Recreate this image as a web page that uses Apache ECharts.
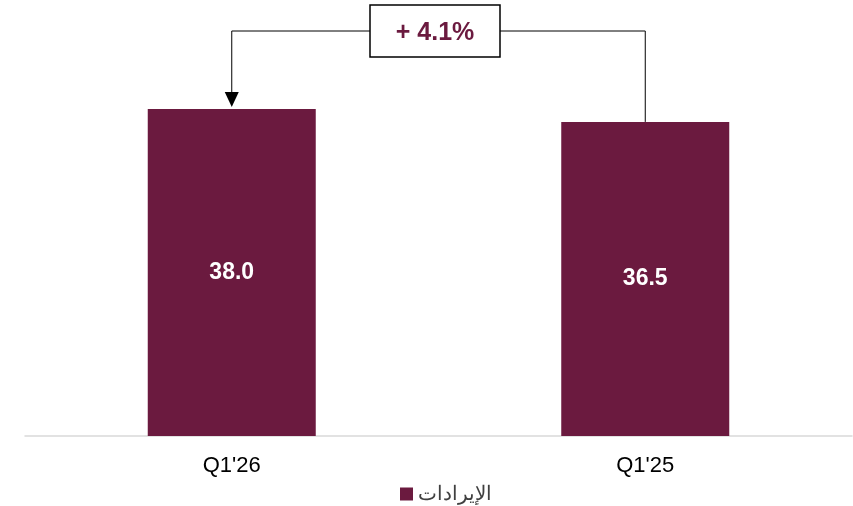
<!DOCTYPE html>
<html><head><meta charset="utf-8">
<script src="https://cdn.jsdelivr.net/npm/echarts@6/dist/echarts.min.js"></script>
<style>html,body{margin:0;padding:0;background:#fff;}#c{width:853px;height:506px;}</style>
</head><body><div id="c"></div>
<script>
var categories = ["Q1'26", "Q1'25"];
var revenue = [38.0, 36.5];
var seriesName = "الإيرادات";
var changeLabel = "+ 4.1%";
var barColor = '#6B1A3F';

var chart = echarts.init(document.getElementById('c'));
chart.setOption({
  animation: false,
  grid: {left: 25, right: 1, top: 109, bottom: 70, containLabel: false},
  legend: {
    top: 479, left: 395, itemWidth: 13, itemHeight: 13, itemGap: 5,
    icon: 'rect',
    textStyle: {fontFamily: 'Liberation Sans, Arial', fontSize: 20, color: '#404040'},
    data: [seriesName]
  },
  xAxis: {
    type: 'category', data: categories,
    axisLine: {lineStyle: {color: '#d9d9d9', width: 1.5}},
    axisTick: {show: false},
    axisLabel: {fontFamily: 'Liberation Sans, Arial', fontSize: 22, color: '#000', margin: 19}
  },
  yAxis: {type: 'value', min: 0, max: 38, show: false, splitLine: {show: false}},
  series: [{
    name: seriesName, type: 'bar', data: revenue, barWidth: 168,
    itemStyle: {color: barColor},
    label: {show: true, position: 'inside', formatter: function(p){return p.value.toFixed(1);},
      color: '#fff', fontWeight: 'bold', fontSize: 23, fontFamily: 'Liberation Sans, Arial'}
  }]
});

var p1 = chart.convertToPixel({seriesIndex: 0}, [0, revenue[0]]);
var p2 = chart.convertToPixel({seriesIndex: 0}, [1, revenue[1]]);
var lineY = 31, boxL = 370, boxR = 500, boxT = 5, boxB = 57;
chart.setOption({
  graphic: [
    {type: 'polyline', shape: {points: [[p2[0], p2[1]], [p2[0], lineY], [boxR, lineY]]},
      style: {stroke: '#000', lineWidth: 1, fill: null}},
    {type: 'polyline', shape: {points: [[boxL, lineY], [p1[0], lineY], [p1[0], p1[1] - 16]]},
      style: {stroke: '#000', lineWidth: 1, fill: null}},
    {type: 'polygon', shape: {points: [[p1[0] - 7, p1[1] - 17], [p1[0] + 7, p1[1] - 17], [p1[0], p1[1] - 2]]},
      style: {fill: '#000'}},
    {type: 'rect', shape: {x: boxL, y: boxT, width: boxR - boxL, height: boxB - boxT},
      style: {fill: '#fff', stroke: '#000', lineWidth: 1.5}},
    {type: 'text', x: (boxL + boxR) / 2, y: (boxT + boxB) / 2 + 2,
      style: {text: changeLabel, fill: barColor, font: 'bold 25px "Liberation Sans", Arial', align: 'center', verticalAlign: 'middle'}}
  ]
});
</script></body></html>
